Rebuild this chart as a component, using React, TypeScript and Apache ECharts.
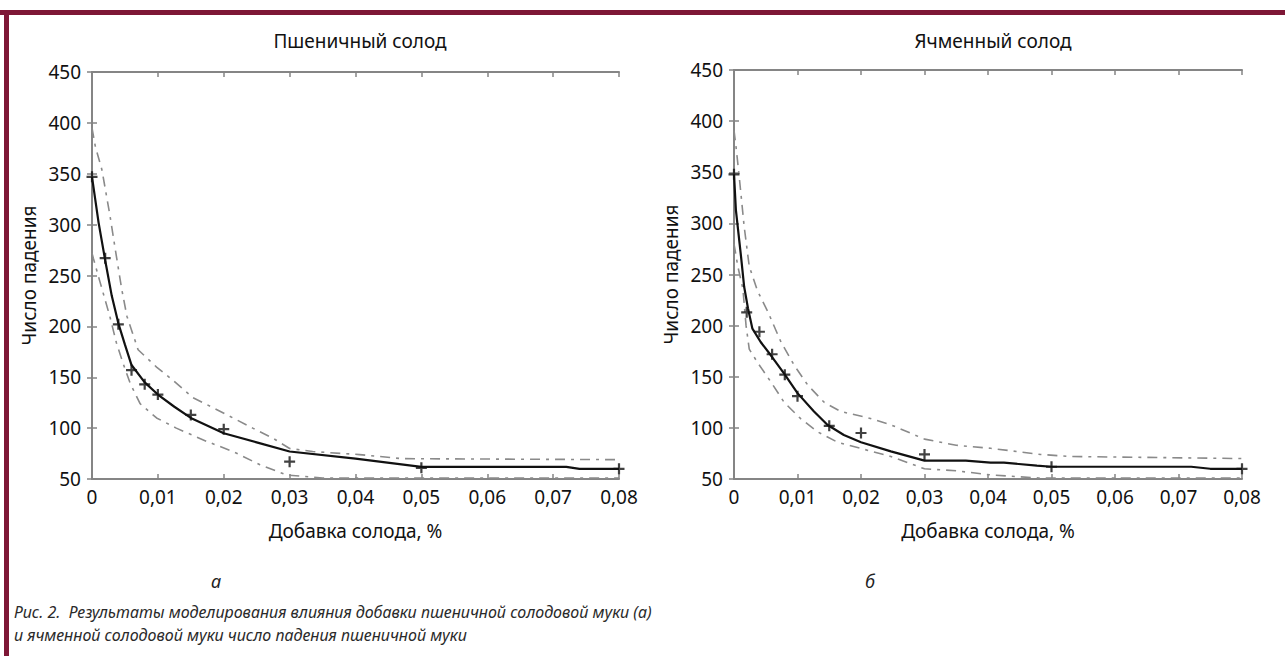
import React, { useEffect, useRef } from "react";
import * as echarts from "echarts";

// ---- Data ----
const xTicks = [0, 0.01, 0.02, 0.03, 0.04, 0.05, 0.06, 0.07, 0.08];
const yTicks = [50, 100, 150, 200, 250, 300, 350, 400, 450];

// Left panel: wheat malt
const leftPointsX = [0, 0.002, 0.004, 0.006, 0.008, 0.01, 0.015, 0.02, 0.03, 0.05, 0.08];
const leftPointsY = [347, 267, 202, 157, 143, 133, 113, 99, 67, 61, 60];
const leftFitX = [0, 0.001, 0.002, 0.003, 0.004, 0.005, 0.006, 0.008, 0.01, 0.0125, 0.015, 0.02, 0.025, 0.03, 0.04, 0.05, 0.072, 0.074, 0.08];
const leftFitY = [347, 302, 265, 230, 203, 182, 162, 145, 133, 121, 110, 95, 86, 77, 70, 62, 62, 60, 60];
const leftUpX = [0, 0.0005, 0.0015, 0.0027, 0.0035, 0.0045, 0.0053, 0.007, 0.0098, 0.0123, 0.0153, 0.0184, 0.0214, 0.0244, 0.0275, 0.03, 0.0335, 0.0406, 0.047, 0.08];
const leftUpY = [395, 377, 354, 310, 277, 237, 210, 177, 160, 147, 130, 120, 110, 100, 90, 80, 77, 74, 70, 69];
const leftLoX = [0, 0.0002, 0.0012, 0.0027, 0.0037, 0.0047, 0.0058, 0.0073, 0.0098, 0.0128, 0.0174, 0.0214, 0.0255, 0.0295, 0.035, 0.08];
const leftLoY = [272, 267, 244, 210, 184, 164, 144, 124, 110, 100, 87, 77, 64, 54, 51, 51];

// Right panel: barley malt
const rightPointsX = [0, 0.002, 0.004, 0.006, 0.008, 0.01, 0.015, 0.02, 0.03, 0.05, 0.08];
const rightPointsY = [348, 213, 194, 172, 152, 131, 102, 95, 74, 62, 60];
const rightFitX = [0, 0.0003, 0.0011, 0.0016, 0.0022, 0.0029, 0.0042, 0.0058, 0.0079, 0.01, 0.0126, 0.0147, 0.0173, 0.02, 0.0247, 0.03, 0.0365, 0.0404, 0.0425, 0.0477, 0.05, 0.072, 0.075, 0.08];
const rightFitY = [348, 313, 268, 238, 217, 197, 184, 171, 153, 134, 116, 103, 93, 86, 77, 68, 68, 66, 66, 63, 62, 62, 60, 60];
const rightUpX = [0, 0.0003, 0.0008, 0.0016, 0.0024, 0.0037, 0.0053, 0.0074, 0.0095, 0.0116, 0.0142, 0.0168, 0.021, 0.0247, 0.03, 0.035, 0.0404, 0.0483, 0.053, 0.08];
const rightUpY = [391, 376, 347, 297, 258, 234, 214, 184, 161, 142, 125, 116, 110, 103, 89, 83, 80, 74, 72, 70];
const rightLoX = [0, 0.0006, 0.0014, 0.0019, 0.0024, 0.0037, 0.0058, 0.0079, 0.0105, 0.0132, 0.0163, 0.0205, 0.0247, 0.03, 0.035, 0.0404, 0.048, 0.08];
const rightLoY = [280, 258, 236, 200, 177, 164, 145, 125, 109, 96, 86, 79, 72, 60, 58, 54, 51, 51];

const titles = ["Пшеничный солод", "Ячменный солод"];
const xName = "Добавка солода, %";
const yName = "Число падения";
const panelLetters = ["а", "б"];
const captionLines = [
  "Рис. 2.  Результаты моделирования влияния добавки пшеничной солодовой муки (а)",
  "и ячменной солодовой муки число падения пшеничной муки",
];

const pairs = (xs: number[], ys: number[]) => xs.map((x, i) => [x, ys[i]]);

const FONT = "'Noto Sans', sans-serif";
const AXIS_COLOR = "#858585";
const BAND_COLOR = "#8a8a8a";
const PLUS = "path://M4,0H6V4H10V6H6V10H4V6H0V4H4Z";

export default function App() {
  const ref = useRef<HTMLDivElement>(null);

  useEffect(() => {
    if (!ref.current) return;
    const chart = echarts.init(ref.current, null, { renderer: "svg" });

    const fmtX = (v: number) => (v === 0 ? "0" : v.toFixed(2).replace(".", ","));

    const grids = [
      { left: 92, top: 72, width: 527, height: 407 },
      { left: 734, top: 70, width: 508, height: 409 },
    ];

    const xAxes: any[] = [];
    const yAxes: any[] = [];
    grids.forEach((_, gi) => {
      xAxes.push({
        type: "value",
        gridIndex: gi,
        min: 0,
        max: 0.08,
        interval: 0.01,
        position: "bottom",
        name: xName,
        nameLocation: "middle",
        nameGap: 42,
        nameTextStyle: { fontFamily: FONT, fontSize: 19, color: "#111" },
        axisLine: { show: true, lineStyle: { color: AXIS_COLOR, width: 2 } },
        axisTick: { show: true, inside: true, length: 5, lineStyle: { color: AXIS_COLOR, width: 1.5 } },
        axisLabel: { formatter: fmtX, fontFamily: FONT, fontSize: 19, color: "#111", margin: 8 },
        splitLine: { show: false },
      });
      xAxes.push({
        type: "value",
        gridIndex: gi,
        min: 0,
        max: 0.08,
        interval: 0.01,
        position: "top",
        axisLine: { show: true, lineStyle: { color: AXIS_COLOR, width: 2 } },
        axisTick: { show: true, inside: true, length: 5, lineStyle: { color: AXIS_COLOR, width: 1.5 } },
        axisLabel: { show: false },
        splitLine: { show: false },
      });
      yAxes.push({
        type: "value",
        gridIndex: gi,
        min: 50,
        max: 450,
        interval: 50,
        position: "left",
        name: yName,
        nameLocation: "middle",
        nameGap: 54,
        nameTextStyle: { fontFamily: FONT, fontSize: 19, color: "#111" },
        axisLine: { show: true, lineStyle: { color: AXIS_COLOR, width: 2 } },
        axisTick: { show: true, inside: true, length: 5, lineStyle: { color: AXIS_COLOR, width: 1.5 } },
        axisLabel: { fontFamily: FONT, fontSize: 19, color: "#111", margin: 11 },
        splitLine: { show: false },
      });
      yAxes.push({
        type: "value",
        gridIndex: gi,
        min: 50,
        max: 450,
        interval: 50,
        position: "right",
        axisLine: { show: true, lineStyle: { color: AXIS_COLOR, width: 2 } },
        axisTick: { show: true, inside: true, length: 5, lineStyle: { color: AXIS_COLOR, width: 1.5 } },
        axisLabel: { show: false },
        splitLine: { show: false },
      });
    });

    const panels = [
      { fit: pairs(leftFitX, leftFitY), up: pairs(leftUpX, leftUpY), lo: pairs(leftLoX, leftLoY), pts: pairs(leftPointsX, leftPointsY) },
      { fit: pairs(rightFitX, rightFitY), up: pairs(rightUpX, rightUpY), lo: pairs(rightLoX, rightLoY), pts: pairs(rightPointsX, rightPointsY) },
    ];

    const series: any[] = [];
    panels.forEach((p, gi) => {
      const xi = gi * 2;
      const yi = gi * 2;
      const band = (data: number[][], name: string) => ({
        type: "line",
        name,
        xAxisIndex: xi,
        yAxisIndex: yi,
        data,
        showSymbol: false,
        symbol: "none",
        lineStyle: { color: BAND_COLOR, width: 1.6, type: [10, 6, 3, 6] },
        z: 2,
      });
      series.push(band(p.up, "upper"));
      series.push(band(p.lo, "lower"));
      series.push({
        type: "line",
        name: "model",
        xAxisIndex: xi,
        yAxisIndex: yi,
        data: p.fit,
        showSymbol: false,
        symbol: "none",
        lineStyle: { color: "#111", width: 2.2 },
        z: 3,
      });
      series.push({
        type: "scatter",
        name: "experiment",
        xAxisIndex: xi,
        yAxisIndex: yi,
        data: p.pts,
        symbol: PLUS,
        symbolSize: 11,
        itemStyle: { color: "#111" },
        z: 4,
      });
    });

    const maroon = "#7e1736";

    chart.setOption({
      animation: false,
      backgroundColor: "#fff",
      title: [
        { text: titles[0], left: 355, top: 26, textAlign: "center", textStyle: { fontFamily: FONT, fontSize: 19, fontWeight: "normal", color: "#111" } },
        { text: titles[1], left: 988, top: 26, textAlign: "center", textStyle: { fontFamily: FONT, fontSize: 19, fontWeight: "normal", color: "#111" } },
      ],
      grid: grids,
      xAxis: xAxes,
      yAxis: yAxes,
      series,
      graphic: [
        { type: "rect", shape: { x: 0, y: 10, width: 1285, height: 5 }, style: { fill: maroon }, silent: true },
        { type: "rect", shape: { x: 4, y: 10, width: 5, height: 646 }, style: { fill: maroon }, silent: true },
        { type: "text", x: 216, y: 581, style: { text: panelLetters[0], font: `italic 18px ${FONT}`, fill: "#222", align: "center", verticalAlign: "middle" } },
        { type: "text", x: 870, y: 581, style: { text: panelLetters[1], font: `italic 18px ${FONT}`, fill: "#222", align: "center", verticalAlign: "middle" } },
        { type: "text", x: 14, y: 612, style: { text: captionLines[0], font: `italic 16px ${FONT}`, fill: "#2a2a2a", align: "left", verticalAlign: "middle" } },
        { type: "text", x: 14, y: 635, style: { text: captionLines[1], font: `italic 16px ${FONT}`, fill: "#2a2a2a", align: "left", verticalAlign: "middle" } },
      ],
    });

    return () => chart.dispose();
  }, []);

  return (
    <div
      ref={ref}
      style={{ position: "fixed", left: 0, top: 0, width: 1285, height: 656, background: "#fff" }}
    />
  );
}
